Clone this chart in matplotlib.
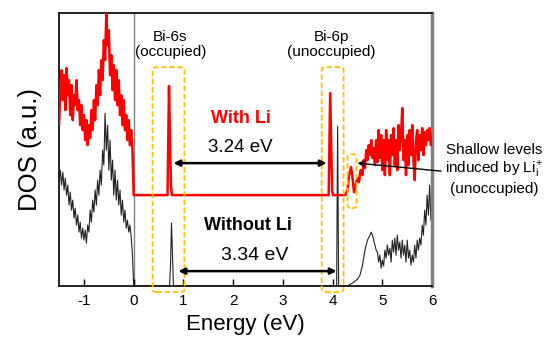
import matplotlib
matplotlib.use("Agg")
import matplotlib.pyplot as plt
from matplotlib.patches import FancyBboxPatch
import numpy as np

plt.rcParams['font.family'] = ['Liberation Sans', 'DejaVu Sans']
plt.rcParams['axes.unicode_minus'] = False

# --- valence band region (-1.5 .. 0 eV, 0.025 eV step) ---
energy_vb = np.linspace(-1.5, 0.0, 61)
li_vb = [70, 105, 125, 95, 120, 85, 127, 100, 115, 80,
         110, 75, 100, 90, 115, 85, 95, 70, 90, 65,
         80, 55, 75, 50, 70, 57, 85, 65, 95, 75,
         110, 90, 125, 100, 135, 115, 155, 135, 182, 150,
         165, 120, 140, 105, 130, 95, 125, 90, 115, 80,
         100, 70, 95, 65, 80, 55, 75, 50, 65, 45, 0]
noli_vb = [106, 116, 101, 114, 96, 108, 91, 101, 81, 94,
           76, 86, 68, 78, 61, 71, 54, 64, 48, 58,
           46, 56, 43, 61, 54, 76, 64, 86, 74, 96,
           81, 106, 91, 116, 101, 136, 121, 173, 136, 161,
           116, 146, 106, 126, 91, 116, 86, 106, 81, 96,
           71, 86, 64, 76, 58, 66, 54, 61, 49, 31, 0]

# --- gap region: Bi-6s and Bi-6p states ---
energy_gap_li = [0.0, 0.68, 0.71, 0.73, 0.75, 0.77, 3.92, 3.95, 3.97, 3.99, 4.01, 4.25]
li_gap = [0, 0, 109, 55, 9, 0, 0, 102, 55, 4, 0, 0]
energy_gap_noli = [0.0, 0.72, 0.74, 0.76, 0.78, 0.80, 4.08, 4.10, 4.12, 4.30]
noli_gap = [0, 0, 20, 63, 30, 0, 0, 160, 0, 0]

# --- conduction band region ---
energy_cb_li = [4.30, 4.33, 4.37, 4.40, 4.43, 4.46, 4.50, 4.53, 4.56, 4.60] + list(np.linspace(4.625, 6.0, 56))
li_cb = [5, 20, 28, 17, 3, 10, 17, 13, 25, 20,
         35, 27, 45, 35, 50, 40, 55, 37, 47, 30,
         55, 33, 65, 37, 60, 25, 55, 20, 65, 35,
         55, 20, 60, 40, 67, 30, 55, 25, 70, 45,
         60, 87, 35, 55, 20, 60, 30, 65, 40, 70,
         35, 15, 55, 65, 35, 60, 45, 67, 40, 63,
         50, 65, 55, 67, 50, 60]
energy_cb_noli = [4.35, 4.40, 4.45, 4.50, 4.55, 4.60, 4.65, 4.70, 4.75, 4.775] + list(np.linspace(4.8, 6.0, 49))
noli_cb = [2, 3, 5, 7, 11, 21, 36, 46, 51, 54,
           51, 46, 41, 36, 34, 24, 31, 18, 26, 20,
           36, 28, 41, 31, 38, 24, 46, 34, 48, 31,
           51, 36, 44, 28, 46, 31, 41, 24, 46, 28,
           36, 21, 31, 24, 41, 28, 46, 36, 48, 41,
           61, 51, 76, 61, 91, 71, 101, 66, 81]

li_offset = 91

e_li = np.concatenate([energy_vb, energy_gap_li, energy_cb_li])
d_li = np.concatenate([li_vb, li_gap, li_cb]) + li_offset
e_noli = np.concatenate([energy_vb, energy_gap_noli, energy_cb_noli])
d_noli = np.concatenate([noli_vb, noli_gap, noli_cb])

fig = plt.figure(figsize=(5.47, 3.37), dpi=100)
ax = fig.add_axes([0.108, 0.151, 0.682, 0.810])

ax.axvline(0, color='#808080', lw=1.0, zorder=1)
ax.plot(e_noli, d_noli, color='#222222', lw=0.8, zorder=2)
ax.plot(e_li, d_li, color='#ff0000', lw=1.8, zorder=3)

ax.set_xlim(-1.5, 6)
ax.set_ylim(0, 273)
ax.set_yticks([])
ax.set_xticks([-1, 0, 1, 2, 3, 4, 5, 6])
ax.tick_params(axis='x', direction='in', length=5, width=1, pad=6, labelsize=11)
for side in ['left', 'top', 'bottom']:
    ax.spines[side].set_linewidth(1.3)
    ax.spines[side].set_color('#111111')
ax.spines['right'].set_color('#808080')
ax.spines['right'].set_linewidth(2.5)

ax.set_xlabel('Energy (eV)', fontsize=16, labelpad=4)
ax.set_ylabel('DOS (a.u.)', fontsize=18.5, labelpad=12)

# dashed highlight boxes
gold = '#FFC000'
boxes = [(0.38, -6, 0.64, 225), (3.78, -6, 0.44, 225), (4.30, 78, 0.18, 54)]
for x0, y0, w, h in boxes:
    ax.add_patch(FancyBboxPatch((x0, y0), w, h, boxstyle='round,pad=0,rounding_size=0.08',
                                mutation_aspect=35, fill=False, ec=gold, lw=1.3,
                                ls=(0, (3, 1.5)), clip_on=False, zorder=4))

# gap arrows
arrow_kw = dict(arrowstyle='<|-|>', color='black', lw=1.8, mutation_scale=9, shrinkA=0, shrinkB=0)
ax.annotate('', xy=(3.88, 123), xytext=(0.80, 123), arrowprops=arrow_kw, zorder=5)
ax.annotate('', xy=(4.08, 15), xytext=(0.90, 15), arrowprops=arrow_kw, zorder=5)

ax.text(0.74, 242, 'Bi-6s\n(occupied)', ha='center', va='center', fontsize=11, linespacing=1.1)
ax.text(3.98, 242, 'Bi-6p\n(unoccupied)', ha='center', va='center', fontsize=11, linespacing=1.1)
ax.text(2.16, 168, 'With Li', ha='center', va='center', fontsize=13, fontweight='bold', color='#ff0000')
ax.text(2.14, 139, '3.24 eV', ha='center', va='center', fontsize=13.5)
ax.text(2.30, 61, 'Without Li', ha='center', va='center', fontsize=13, fontweight='bold')
ax.text(2.44, 31, '3.34 eV', ha='center', va='center', fontsize=14)

ax.annotate('', xy=(4.50, 123), xytext=(6.18, 115),
            arrowprops=dict(arrowstyle='->', color='black', lw=1.0, shrinkA=0, shrinkB=0),
            annotation_clip=False, zorder=5)
ax.text(7.24, 117, 'Shallow levels\ninduced by Li$_\\mathregular{i}^\\mathregular{+}$\n(unoccupied)',
        ha='center', va='center', fontsize=11, linespacing=1.15, clip_on=False)

fig.savefig('out.png', dpi=100)
